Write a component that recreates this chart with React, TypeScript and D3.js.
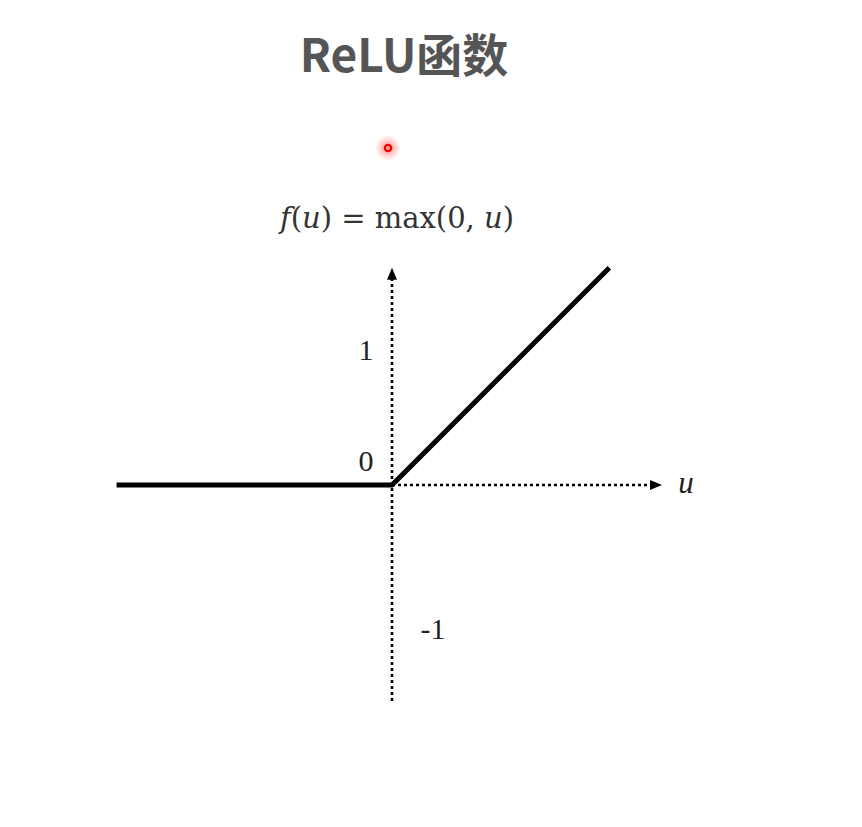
import React from "react";
import * as d3 from "d3";

const titleText = "ReLU函数";
const reluU = [-2.04, 0, 1.61];
const reluF = reluU.map((u) => Math.max(0, u));
const yTickValues = [1, 0, -1];
const yTickLabels = ["1", "0", "-1"];
const axisX = [0, 2.0];
const axisY = [-1.6, 1.61];

export default function App() {
  const W = 862, H = 827;
  const x = d3.scaleLinear().domain([0, 1]).range([392, 527]);
  const y = d3.scaleLinear().domain([0, 1]).range([485, 350]);
  const pts: [number, number][] = reluU.map((u, i) => [x(u), y(reluF[i])]);
  const line = d3.line()(pts) || "";
  const arrow = (tx: number, ty: number, dir: "up" | "right") => {
    if (dir === "up") return `M${tx},${ty} L${tx - 5},${ty + 12} L${tx + 5},${ty + 12} Z`;
    return `M${tx},${ty} L${tx - 12},${ty - 5} L${tx - 12},${ty + 5} Z`;
  };
  const ax0 = x(0), ay0 = y(0);
  const tickPos = [
    { dx: -26, dy: 10 },
    { dx: -26, dy: -14 },
    { dx: 41, dy: 19 },
  ];
  const serif = "'Liberation Serif', 'DejaVu Serif', serif";
  return (
    <svg width={W} height={H} style={{ position: "absolute", left: 0, top: 0, background: "#fff" }}>
      <defs>
        <radialGradient id="glow">
          <stop offset="0%" stopColor="#ff3030" stopOpacity={0.55} />
          <stop offset="100%" stopColor="#ff3030" stopOpacity={0} />
        </radialGradient>
      </defs>
      <rect width={W} height={H} fill="#fff" />
      <text x={404} y={72} textAnchor="middle" fontFamily="'Noto Sans CJK SC', 'Noto Sans', sans-serif" fontWeight={700} fontSize={46} fill="#555">
        {titleText}
      </text>
      <circle cx={388} cy={148} r={13} fill="url(#glow)" />
      <circle cx={388} cy={148} r={3.2} fill="none" stroke="#e00" strokeWidth={2.2} />
      <text x={397} y={228} textAnchor="middle" fontFamily="'DejaVu Serif', serif" fontSize={29} fill="#333">
        <tspan fontStyle="italic">f</tspan>(<tspan fontStyle="italic">u</tspan>) = max(0, <tspan fontStyle="italic">u</tspan>)
      </text>
      {/* vertical axis */}
      <line x1={ax0} x2={ax0} y1={y(axisY[0])} y2={y(axisY[1]) + 10} stroke="#000" strokeWidth={2.6} strokeDasharray="3,3" />
      <path d={arrow(ax0, y(axisY[1]), "up")} fill="#000" />
      {/* horizontal axis */}
      <line x1={x(axisX[0])} x2={x(axisX[1]) - 10} y1={ay0} y2={ay0} stroke="#000" strokeWidth={2.6} strokeDasharray="3,3" />
      <path d={arrow(x(axisX[1]), ay0, "right")} fill="#000" />
      <text x={x(axisX[1]) + 24} y={ay0 + 8} textAnchor="middle" fontFamily={serif} fontStyle="italic" fontSize={31} fill="#222">u</text>
      {yTickValues.map((v, i) => (
        <text key={i} x={ax0 + tickPos[i].dx} y={y(v) + tickPos[i].dy} textAnchor="middle" fontFamily={serif} fontSize={30} fill="#222">
          {yTickLabels[i]}
        </text>
      ))}
      <path d={line} fill="none" stroke="#000" strokeWidth={5} strokeLinejoin="miter" />
    </svg>
  );
}
